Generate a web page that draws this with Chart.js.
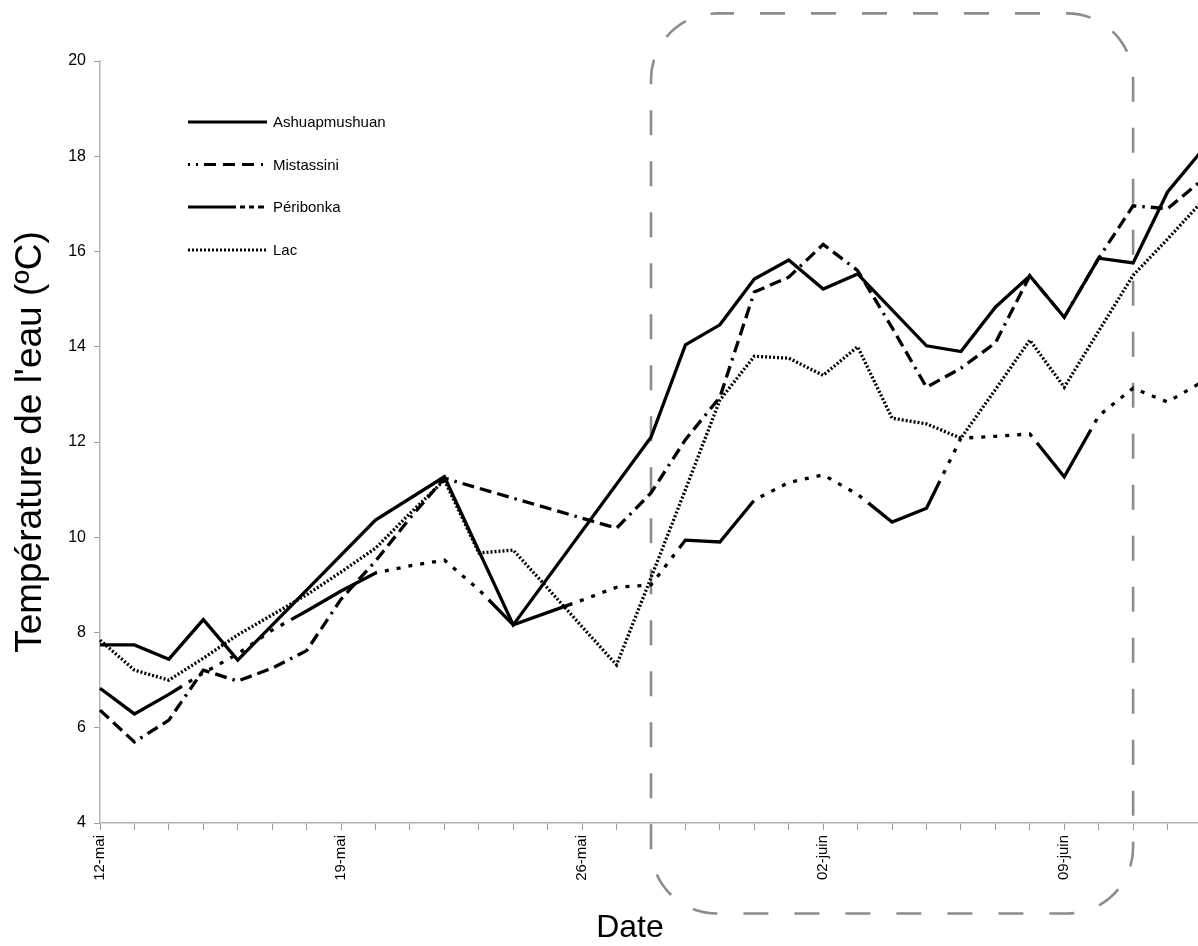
<!DOCTYPE html>
<html>
<head>
<meta charset="utf-8">
<title>Température de l'eau</title>
<script src="https://cdn.jsdelivr.net/npm/chart.js@4.4.1/dist/chart.umd.min.js"></script>
<style>
  html, body { margin: 0; padding: 0; background: #ffffff; overflow: hidden; width: 1198px; height: 946px; }
  #wrap { position: absolute; left: 0; top: 0; }
</style>
</head>
<body>
<div id="wrap"><canvas id="chart" width="1210" height="946"></canvas></div>
<script>
// Dates de mesure (une par jour)
const dates = [
  '12-mai', '13-mai', '14-mai', '15-mai', '16-mai', '17-mai', '18-mai',
  '19-mai', '20-mai', '21-mai', '22-mai', '23-mai', '24-mai', '25-mai',
  '26-mai', '27-mai', '28-mai', '29-mai', '30-mai', '31-mai', '01-juin',
  '02-juin', '03-juin', '04-juin', '05-juin', '06-juin', '07-juin', '08-juin',
  '09-juin', '10-juin', '11-juin', '12-juin', '13-juin'
];

// Dates affichées sous l'axe horizontal
const tickLabels = ['12-mai', '19-mai', '26-mai', '02-juin', '09-juin'];

// Température de l'eau (°C) par rivière ; null = aucune mesure ce jour-là
const ashuapmushuan = [
  7.74, 7.74, 7.44, 8.27, 7.42, null, null,
  null, 10.36, null, 11.27, null, 8.16, null,
  null, null, 12.10, 14.04, 14.46, 15.42, 15.82,
  15.21, 15.53, null, 14.02, 13.90, 14.83, 15.49,
  14.62, 15.86, 15.76, 17.25, 18.12
];
const mistassini = [
  6.37, 5.70, 6.16, 7.21, 6.98, 7.25, 7.62,
  8.70, 9.50, 10.40, 11.24, null, null, null,
  null, 10.19, 10.93, 12.05, 12.94, 15.15, 15.46,
  16.15, 15.60, 14.40, 13.15, 13.55, 14.08, 15.49,
  14.62, 15.86, 16.96, 16.90, 17.50
];
const peribonka = [
  6.83, 6.29, 6.70, 7.15, 7.55, 8.05, 8.45,
  8.87, 9.25, 9.40, 9.52, 8.90, 8.16, null,
  8.68, 8.95, 9.00, 9.94, 9.90, 10.78, 11.15,
  11.31, 10.90, 10.32, 10.61, 12.08, 12.12, 12.17,
  11.27, 12.55, 13.13, 12.84, 13.26
];
const lac = [
  7.84, 7.21, 7.00, 7.46, 7.95, 8.37, 8.79,
  9.27, 9.77, 10.50, 11.20, 9.67, 9.73, 8.93,
  8.12, 7.32, 9.15, 11.00, 12.88, 13.80, 13.76,
  13.40, 14.00, 12.50, 12.38, 12.08, 13.10, 14.14,
  13.15, 14.33, 15.50, 16.26, 17.05
];

const seriesNames = ['Ashuapmushuan', 'Mistassini', 'Péribonka', 'Lac'];

// Période encadrée par le rectangle pointillé
const windowDates = ['28-mai', '11-juin'];
const windowRange = [2.1, 21.0];

const FONT = "'Liberation Sans', Arial, Helvetica, sans-serif";

// Trait long suivi d'une série de points (Péribonka)
const longDashDots = [98];
for (let k = 0; k < 10; k++) longDashDots.push(8, 4);
longDashDots.push(8);

// Motifs de trait : dans le graphique et dans la légende
const lineDash = [
  [],
  [12, 6, 12, 6, 12, 6, 2.5, 6],
  longDashDots,
  [2, 2]
];
const legendDash = [
  [],
  [2, 6, 2, 6, 12, 7, 12, 7, 12, 7, 2, 20],
  [48, 4, 5, 4, 5, 4, 6, 40],
  [2, 2]
];

const values = [ashuapmushuan, mistassini, peribonka, lac];

const datasets = seriesNames.map((name, i) => ({
  label: name,
  data: values[i],
  borderColor: '#000000',
  backgroundColor: '#000000',
  borderWidth: 3.3,
  borderDash: lineDash[i],
  borderCapStyle: 'butt',
  borderJoinStyle: 'miter',
  pointRadius: 0,
  pointHoverRadius: 0,
  tension: 0,
  spanGaps: true,
  fill: false
}));

// Rectangle arrondi en tirets gris autour de la période d'intérêt
const windowFrame = {
  id: 'windowFrame',
  beforeDatasetsDraw(chart) {
    const { ctx, scales: { x, y } } = chart;
    const x0 = x.getPixelForValue(dates.indexOf(windowDates[0]));
    const x1 = x.getPixelForValue(dates.indexOf(windowDates[1]));
    const y0 = y.getPixelForValue(windowRange[1]);
    const y1 = y.getPixelForValue(windowRange[0]);
    const r = 66;
    ctx.save();
    ctx.strokeStyle = '#8c8c8c';
    ctx.lineWidth = 2.6;
    ctx.setLineDash([25, 26]);
    ctx.lineDashOffset = 8;
    ctx.beginPath();
    ctx.moveTo(x0 + r, y0);
    ctx.lineTo(x1 - r, y0);
    ctx.arc(x1 - r, y0 + r, r, -Math.PI / 2, 0);
    ctx.lineTo(x1, y1 - r);
    ctx.arc(x1 - r, y1 - r, r, 0, Math.PI / 2);
    ctx.lineTo(x0 + r, y1);
    ctx.arc(x0 + r, y1 - r, r, Math.PI / 2, Math.PI);
    ctx.lineTo(x0, y0 + r);
    ctx.arc(x0 + r, y0 + r, r, Math.PI, Math.PI * 1.5);
    ctx.stroke();
    ctx.restore();
  }
};

// Légende à l'intérieur du graphique et titre de l'axe horizontal
const annotations = {
  id: 'annotations',
  afterDraw(chart) {
    const { ctx } = chart;
    ctx.save();
    const rows = [122, 164.5, 207, 250];
    chart.data.datasets.forEach((ds, i) => {
      const yy = rows[i];
      ctx.strokeStyle = '#000000';
      ctx.lineWidth = 3;
      ctx.lineCap = 'butt';
      ctx.setLineDash(legendDash[i]);
      ctx.beginPath();
      ctx.moveTo(188, yy);
      ctx.lineTo(267, yy);
      ctx.stroke();
      ctx.setLineDash([]);
      ctx.fillStyle = '#000000';
      ctx.font = '15px ' + FONT;
      ctx.textAlign = 'left';
      ctx.textBaseline = 'middle';
      ctx.fillText(ds.label, 273, yy + 1);
    });
    ctx.font = '32px ' + FONT;
    ctx.textAlign = 'center';
    ctx.textBaseline = 'middle';
    ctx.fillStyle = '#000000';
    ctx.fillText('Date', 630, 928);
    ctx.restore();
  }
};

new Chart(document.getElementById('chart'), {
  type: 'line',
  data: { labels: dates, datasets },
  plugins: [windowFrame, annotations],
  options: {
    responsive: false,
    animation: false,
    events: [],
    layout: { padding: { left: 0, right: 8, top: 61, bottom: 0 } },
    plugins: {
      legend: { display: false },
      tooltip: { enabled: false },
      title: { display: false }
    },
    scales: {
      x: {
        type: 'category',
        offset: false,
        grid: {
          display: true,
          drawOnChartArea: false,
          drawTicks: true,
          tickLength: 7,
          color: '#9a9a9a',
          lineWidth: 1
        },
        border: { display: true, color: '#b5b5b5', width: 1.5 },
        ticks: {
          autoSkip: false,
          maxRotation: 90,
          minRotation: 90,
          padding: 5,
          color: '#000000',
          font: { family: FONT, size: 15 },
          callback: (v, i) => (tickLabels.includes(dates[i]) ? dates[i] : '')
        },
        afterFit: (s) => { s.height = 123; s.paddingLeft = 0; s.paddingRight = 0; }
      },
      y: {
        min: 4,
        max: 20,
        grid: {
          display: true,
          drawOnChartArea: false,
          drawTicks: true,
          tickLength: 6,
          color: '#9a9a9a',
          lineWidth: 1
        },
        border: { display: true, color: '#b5b5b5', width: 1.5 },
        ticks: {
          stepSize: 2,
          padding: 8,
          color: '#000000',
          font: { family: FONT, size: 16 }
        },
        title: {
          display: true,
          text: "Température de l'eau (ºC)",
          color: '#000000',
          font: { family: FONT, size: 37 },
          padding: { top: 9, bottom: 0 }
        },
        afterFit: (s) => { s.width = 100; s.paddingTop = 0; s.paddingBottom = 0; }
      }
    }
  }
});
</script>
</body>
</html>
